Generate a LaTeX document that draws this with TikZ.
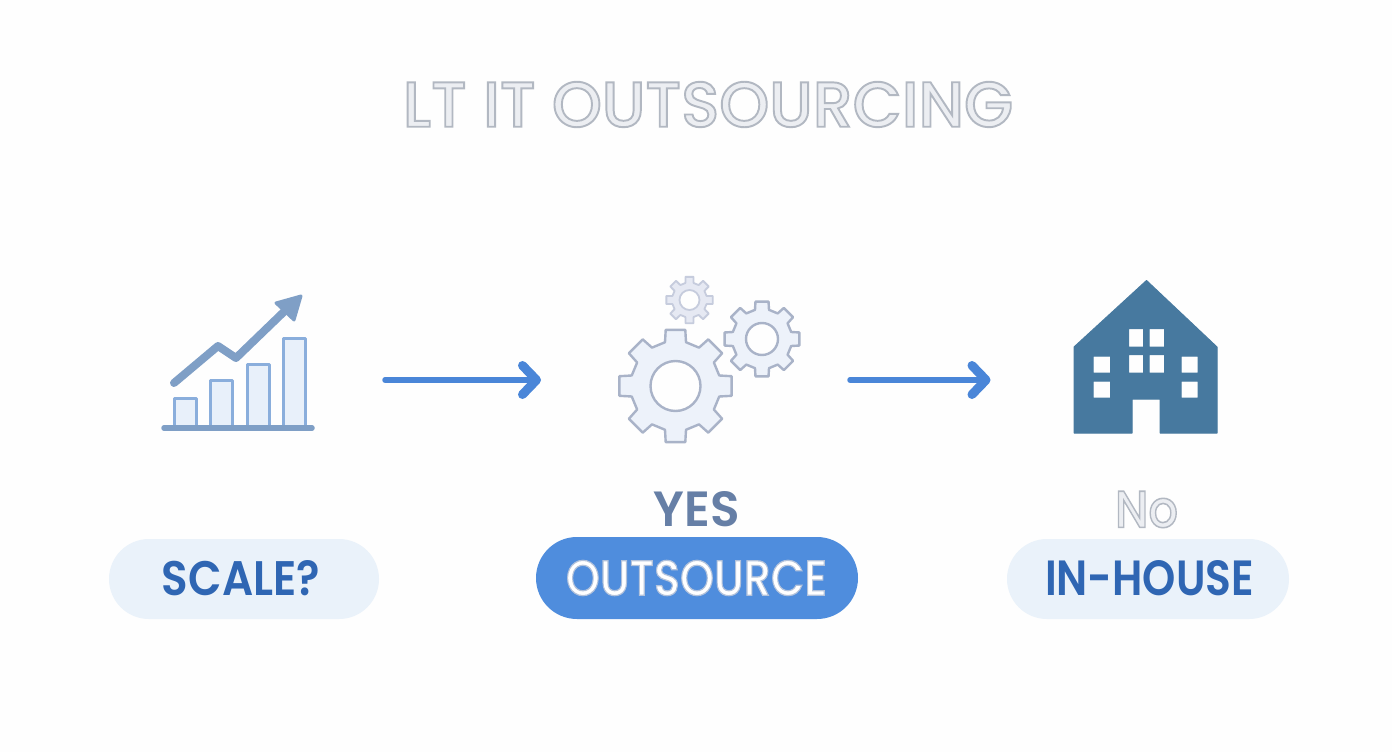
\documentclass[tikz,border=0pt]{standalone}
\usepackage{fontspec}
\usepackage{graphicx}
\setmainfont{Poppins}
\newfontfamily\popmed{Poppins Medium}
\newfontfamily\popsemi{Poppins SemiBold}
\usetikzlibrary{arrows.meta}
\definecolor{bgc}{HTML}{FEFEFE}
\definecolor{flowc}{HTML}{4A86D8}
\definecolor{linec}{HTML}{7F9FC6}
\definecolor{barline}{HTML}{8AAEDC}
\definecolor{barfill}{HTML}{E8F0FA}
\definecolor{gearfill}{HTML}{EDF2FA}
\definecolor{gearline}{HTML}{A9B3C8}
\definecolor{smallfill}{HTML}{E6E9F3}
\definecolor{smallline}{HTML}{C6CCDD}
\definecolor{housec}{HTML}{47799F}
\definecolor{pilllight}{HTML}{EAF2FA}
\definecolor{pillblue}{HTML}{4F8DDD}
\definecolor{labelblue}{HTML}{2F66B3}
\definecolor{yesc}{HTML}{667FA6}
\definecolor{ghostfill}{HTML}{ECEEF2}
% text with an outline: fill colour #1, stroke operands #2, width #3
\newcommand{\outlined}[4]{{\color{#1}\special{pdf:code 2 Tr #3 w #2 RG}#4\special{pdf:code 0 Tr}}}
\newcommand{\fitted}[3]{\resizebox{#1pt}{#2pt}{#3}}
\newcommand{\gearicon}[8]{% cx cy teeth Rout Rroot hole style rot
  \begin{scope}[shift={(#1,#2)},rotate=#8]
    \pgfmathsetmacro{\step}{360/#3}
    \pgfmathsetmacro{\halfroot}{0.30*\step}
    \pgfmathsetmacro{\halftip}{0.22*\step}
    \path[#7,line join=round,draw,fill]
      (-\halfroot:#5)
      \foreach \t in {1,...,#3}{
        -- ({(\t-1)*\step-\halfroot}:#5)
        -- ({(\t-1)*\step-\halftip}:#4)
        -- ({(\t-1)*\step+\halftip}:#4)
        -- ({(\t-1)*\step+\halfroot}:#5)
        -- ({(\t-1)*\step+\step-\halfroot}:#5)
      } -- cycle;
    \fill[bgc] (0,0) circle[radius=#6];
    \draw[#7,fill=none] (0,0) circle[radius=#6];
  \end{scope}}
\tikzset{
  flow/.style={draw=flowc,line width=5.5pt,line cap=round,line join=round,
    -{Straight Barb[length=14pt,width=29pt,line width=9pt,round]}},
  icon/.style={inner sep=0pt,outer sep=0pt,draw=none},
  pill/.style={rounded corners=40pt,draw=none},
  label/.style={inner sep=0pt,outer sep=0pt,anchor=center},
  bar/.style={draw=barline,fill=barfill,line width=3pt,line join=round},
  bigg/.style={draw=gearline,fill=gearfill,line width=2.4pt},
  smallg/.style={draw=smallline,fill=smallfill,line width=1.8pt},
}
\begin{document}
\begin{tikzpicture}[x=1pt,y=-1pt]
\useasboundingbox (0,0) rectangle (1392,752);
\fill[bgc] (0,0) rectangle (1392,752);

% title
\node[label] (title) at (708,104.5) {\fitted{610}{45}{\popmed\outlined{ghostfill}{0.70 0.72 0.76}{0.3}{LT IT OUTSOURCING}}};

% icon frames
\node[icon,minimum width=152pt,minimum height=172pt] (chart) at (238,380) {};
\node[icon,minimum width=184pt,minimum height=170pt] (gears) at (709,380) {};
\node[icon,minimum width=144pt,minimum height=154pt] (house) at (1146,380) {};

% chart
\foreach \xa/\xb/\yt in {174/196/398, 210.5/232.5/380, 247/269/364, 283.5/305.5/338}
  \draw[bar] (\xa,428) -- (\xa,\yt) -- (\xb,\yt) -- (\xb,428);
\draw[linec,line width=5.5pt,line cap=round] (164,428) -- (312,428);
\draw[linec,line width=8pt,line cap=round,line join=round] (174,383) -- (218,346) -- (236,358) -- (292,304);
\fill[linec,draw=linec,line width=3pt,line join=round] (276,303) -- (301,296) -- (294,320) -- cycle;

% gears
\gearicon{689.5}{300}{8}{23.5}{17.5}{10}{smallg}{0}
\gearicon{762}{339}{8}{38}{30}{16}{bigg}{0}
\gearicon{675.5}{386}{8}{57}{45}{25}{bigg}{0}

% house
\fill[housec,line join=round,even odd rule,draw=housec,line width=1pt]
  (1146.5,280.5) -- (1217,347) -- (1217,433) -- (1160,433) -- (1160,399) -- (1132,399)
  -- (1132,433) -- (1074,433) -- (1074,347) -- cycle
  (1128.5,328.5) rectangle (1143.5,347)
  (1149,328.5) rectangle (1164.5,347)
  (1128.5,354.5) rectangle (1143.5,373)
  (1149,354.5) rectangle (1164.5,373)
  (1093,356) rectangle (1110.5,373)
  (1093,381) rectangle (1110.5,398)
  (1181,356) rectangle (1198,373)
  (1181,381) rectangle (1198,398);

% connectors
\draw[flow,shorten <=71pt,shorten >=76pt] (chart.east) -- (gears.west);
\draw[flow,shorten <=49pt,shorten >=83.5pt] (gears.east) -- (house.west);

% pills
\node[pill,fill=pilllight,minimum width=270pt,minimum height=80pt] (pa) at (244,579) {};
\node[pill,fill=pillblue,minimum width=322pt,minimum height=82pt,rounded corners=41pt] (pb) at (697,578) {};
\node[pill,fill=pilllight,minimum width=282pt,minimum height=80pt] (pc) at (1148,579) {};

% labels
\node[label] (l1) at (241,578.5) {\fitted{158}{35}{\popsemi\color{labelblue}SCALE?}};
\node[label] (l2) at (696.5,578) {\fitted{261}{35}{\popmed\outlined{white}{0.70 0.76 0.86}{0.25}{OUTSOURCE}}};
\node[label] (l3) at (1149.5,578.5) {\fitted{209}{35}{\popsemi\color{labelblue}IN-HOUSE}};
\node[label] (yes) at (697,509.5) {\fitted{86}{35}{\popsemi\color{yesc}YES}};
\node[label] (no) at (1146.5,509.5) {\fitted{63}{36}{\popmed\outlined{ghostfill}{0.70 0.72 0.76}{0.3}{No}}};
\end{tikzpicture}
\end{document}
